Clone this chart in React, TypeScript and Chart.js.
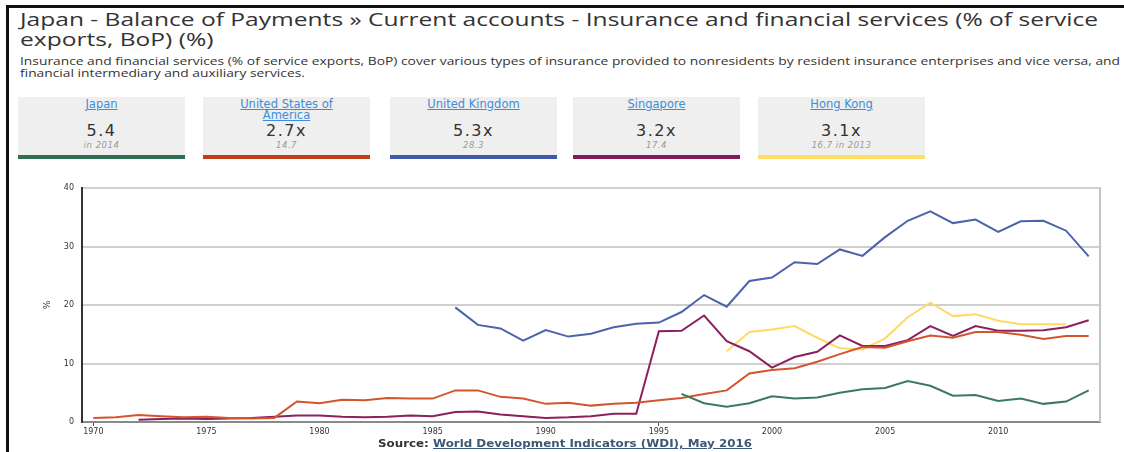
import React, { useEffect, useLayoutEffect, useRef } from 'react';
import { Chart, registerables } from 'chart.js';

Chart.register(...registerables);

const years = [
  '1970', '1971', '1972', '1973', '1974', '1975', '1976', '1977', '1978', '1979',
  '1980', '1981', '1982', '1983', '1984', '1985', '1986', '1987', '1988', '1989',
  '1990', '1991', '1992', '1993', '1994', '1995', '1996', '1997', '1998', '1999',
  '2000', '2001', '2002', '2003', '2004', '2005', '2006', '2007', '2008', '2009',
  '2010', '2011', '2012', '2013', '2014',
];

const xTickLabels = ['1970', '1975', '1980', '1985', '1990', '1995', '2000', '2005', '2010'];

const japan = [
  null, null, null, null, null, null, null, null, null, null,
  null, null, null, null, null, null, null, null, null, null,
  null, null, null, null, null, null, 4.8, 3.2, 2.6, 3.2,
  4.4, 4.0, 4.2, 5.0, 5.6, 5.8, 7.0, 6.2, 4.5, 4.6,
  3.6, 4.0, 3.1, 3.5, 5.4,
];

const usa = [
  0.7, 0.8, 1.2, 1.0, 0.8, 0.9, 0.7, 0.6, 0.7, 3.5,
  3.2, 3.8, 3.7, 4.1, 4.0, 4.0, 5.4, 5.4, 4.3, 4.0,
  3.1, 3.3, 2.8, 3.1, 3.3, 3.7, 4.1, 4.8, 5.4, 8.3,
  8.9, 9.2, 10.3, 11.6, 12.8, 12.7, 13.8, 14.8, 14.4, 15.4,
  15.4, 14.9, 14.2, 14.7, 14.7,
];

const uk = [
  null, null, null, null, null, null, null, null, null, null,
  null, null, null, null, null, null, 19.6, 16.6, 16.0, 13.9,
  15.7, 14.6, 15.1, 16.2, 16.8, 17.0, 18.8, 21.7, 19.7, 24.1,
  24.7, 27.3, 27.0, 29.5, 28.4, 31.6, 34.4, 36.0, 34.0, 34.6,
  32.5, 34.3, 34.4, 32.7, 28.3,
];

const singapore = [
  null, null, 0.4, 0.5, 0.6, 0.5, 0.6, 0.7, 0.9, 1.1,
  1.1, 0.9, 0.8, 0.9, 1.1, 1.0, 1.7, 1.8, 1.3, 1.0,
  0.7, 0.8, 1.0, 1.4, 1.4, 15.5, 15.6, 18.2, 13.8, 12.1,
  9.3, 11.1, 12.0, 14.8, 13.0, 13.0, 14.0, 16.4, 14.7, 16.4,
  15.6, 15.6, 15.7, 16.2, 17.4,
];

const hongKong = [
  null, null, null, null, null, null, null, null, null, null,
  null, null, null, null, null, null, null, null, null, null,
  null, null, null, null, null, null, null, null, 12.1, 15.4,
  15.8, 16.4, 14.4, 12.6, 12.4, 14.3, 17.9, 20.4, 18.1, 18.4,
  17.3, 16.7, 16.7, 16.7, null,
];

const cardNames = ['Japan', 'United States of America', 'United Kingdom', 'Singapore', 'Hong Kong'];
const cardValues = ['5.4', '2.7x', '5.3x', '3.2x', '3.1x'];
const cardSubs = ['in 2014', '14.7', '28.3', '17.4', '16.7 in 2013'];
const cardColors = ['#2f6e50', '#c33c1c', '#4059a8', '#86195b', '#ffdc62'];
const lineColors = ['#3c7a5c', '#d2552f', '#4b63ad', '#8c1f5f', '#ffd966'];

const titleLines = [
  'Japan - Balance of Payments \u00bb Current accounts - Insurance and financial services (% of service',
  'exports, BoP) (%)',
];
const descLines = [
  'Insurance and financial services (% of service exports, BoP) cover various types of insurance provided to nonresidents by resident insurance enterprises and vice versa, and',
  'financial intermediary and auxiliary services.',
];

function FitLines(props: { lines: string[]; width: number; left: number; top: number; lineHeight: number; style: React.CSSProperties }) {
  const refs = useRef<(HTMLSpanElement | null)[]>([]);
  useLayoutEffect(() => {
    const first = refs.current[0];
    if (!first) return;
    refs.current.forEach((el) => { if (el) el.style.transform = 'none'; });
    const w = first.getBoundingClientRect().width;
    const s = w > 0 ? props.width / w : 1;
    refs.current.forEach((el) => { if (el) el.style.transform = `scaleX(${s})`; });
  }, [props.width]);
  return (
    <div style={{ position: 'absolute', left: props.left, top: props.top }}>
      {props.lines.map((l, i) => (
        <div key={i} style={{ height: props.lineHeight, lineHeight: props.lineHeight + 'px', whiteSpace: 'nowrap' }}>
          <span
            ref={(el) => { refs.current[i] = el; }}
            style={{ display: 'inline-block', transformOrigin: 'left center', ...props.style }}
          >
            {l}
          </span>
        </div>
      ))}
    </div>
  );
}

function FitSpan(props: { width: number; children: React.ReactNode; style?: React.CSSProperties }) {
  const ref = useRef<HTMLSpanElement>(null);
  useLayoutEffect(() => {
    const el = ref.current;
    if (!el) return;
    el.style.transform = 'none';
    const w = el.getBoundingClientRect().width;
    if (w > 0) el.style.transform = `scaleX(${props.width / w})`;
  }, [props.width]);
  return (
    <span ref={ref} style={{ display: 'inline-block', whiteSpace: 'nowrap', transformOrigin: 'left center', ...props.style }}>
      {props.children}
    </span>
  );
}

const cardLefts = [18, 203, 390, 573, 758];

export default function App() {
  const canvasRef = useRef<HTMLCanvasElement>(null);

  useEffect(() => {
    const canvas = canvasRef.current;
    if (!canvas) return;
    const rightBorder = {
      id: 'rightBorder',
      afterDraw(chart: any) {
        const { ctx, chartArea } = chart;
        ctx.save();
        ctx.strokeStyle = '#c4c4c4';
        ctx.lineWidth = 2;
        ctx.beginPath();
        ctx.moveTo(chartArea.right, chartArea.top - 1);
        ctx.lineTo(chartArea.right, chartArea.bottom);
        ctx.stroke();
        ctx.restore();
      },
    };
    const series = [japan, usa, uk, singapore, hongKong];
    const names = ['Japan', 'United States of America', 'United Kingdom', 'Singapore', 'Hong Kong'];
    const chart = new Chart(canvas, {
      type: 'line',
      data: {
        labels: years,
        datasets: series.map((d, i) => ({
          label: names[i],
          data: d,
          borderColor: lineColors[i],
          backgroundColor: lineColors[i],
          borderWidth: 2,
          pointRadius: 0,
          tension: 0,
          spanGaps: false,
          fill: false,
        })),
      },
      options: {
        animation: false,
        responsive: false,
        maintainAspectRatio: false,
        layout: { padding: { left: 38, right: 24, top: 18, bottom: 0 } },
        plugins: { legend: { display: false }, tooltip: { enabled: false } },
        scales: {
          x: {
            type: 'category',
            offset: true,
            afterFit: (s: any) => { s.height = 18; },
            border: { display: true, color: '#8a8a8a', width: 2 },
            grid: {
              drawOnChartArea: false,
              drawTicks: true,
              tickLength: 4,
              color: (ctx: any) => (xTickLabels.includes(years[ctx.index]) ? '#555' : 'rgba(0,0,0,0)'),
              lineWidth: 1,
            },
            ticks: {
              autoSkip: false,
              maxRotation: 0,
              padding: 1,
              color: '#333',
              font: { family: 'DejaVu Sans', size: 8 },
              callback: (v: any, i: number) => (xTickLabels.includes(years[i]) ? years[i] : null),
            },
          },
          y: {
            min: 0,
            max: 40,
            afterFit: (s: any) => { s.width = 44; },
            border: { display: true, color: '#333', width: 2 },
            grid: { drawTicks: false, color: '#cfcfcf', lineWidth: 2 },
            ticks: {
              stepSize: 10,
              padding: 8,
              color: '#333',
              font: { family: 'DejaVu Sans', size: 8 },
            },
            title: {
              display: true,
              text: '%',
              color: '#333',
              padding: { top: 4, bottom: 0 },
              font: { family: 'DejaVu Sans', size: 9 },
            },
          },
        },
      },
      plugins: [rightBorder],
    } as any);
    return () => chart.destroy();
  }, []);

  return (
    <div style={{ position: 'absolute', left: 0, top: 0, width: 1124, height: 452, overflow: 'hidden', background: '#fff', fontFamily: 'DejaVu Sans' }}>
      <div style={{ position: 'absolute', left: 6, top: 5, width: 1118, height: 3, background: '#111' }} />
      <div style={{ position: 'absolute', left: 6, top: 5, width: 3, height: 447, background: '#111' }} />

      <FitLines
        lines={titleLines}
        width={1078}
        left={20}
        top={9}
        lineHeight={20}
        style={{ fontFamily: 'Open Sans', fontSize: 19, color: '#333' }}
      />
      <FitLines
        lines={descLines}
        width={1100}
        left={20}
        top={54}
        lineHeight={12}
        style={{ fontFamily: 'Open Sans', fontSize: 10, color: '#333' }}
      />

      {cardNames.map((n, i) => (
        <div key={i} style={{ position: 'absolute', left: cardLefts[i], top: 97, width: 167, height: 62, background: '#efefef' }}>
          <div style={{ position: 'absolute', left: 20, right: 20, top: 2, textAlign: 'center', fontSize: 11.5, lineHeight: '11px', color: '#3d8ed8', textDecoration: 'underline' }}>
            {i === 1 ? (<>United States of<br />America</>) : n}
          </div>
          <div style={{ position: 'absolute', left: 0, right: 0, top: 26, textAlign: 'center', fontSize: 16, letterSpacing: 1.5, color: '#333', lineHeight: '16px' }}>
            {cardValues[i]}
          </div>
          <div style={{ position: 'absolute', left: 0, right: 0, top: 43, textAlign: 'center', fontSize: 8.5, fontStyle: 'italic', letterSpacing: 0.5, color: '#999', lineHeight: '10px' }}>
            {cardSubs[i]}
          </div>
          <div style={{ position: 'absolute', left: 0, right: 0, bottom: 0, height: 4, background: cardColors[i] }} />
        </div>
      ))}

      <canvas ref={canvasRef} width={1124} height={270} style={{ position: 'absolute', left: 0, top: 170, width: 1124, height: 270 }} />

      <div style={{ position: 'absolute', left: 378, top: 437 }}>
        <FitSpan width={374} style={{ fontFamily: 'DejaVu Sans', fontWeight: 'bold', fontSize: 11, color: '#333', lineHeight: '14px', display: 'block' }}>
          Source:{' '}
          <span style={{ color: '#3b5876', textDecoration: 'underline' }}>World Development Indicators (WDI), May 2016</span>
        </FitSpan>
      </div>
    </div>
  );
}
